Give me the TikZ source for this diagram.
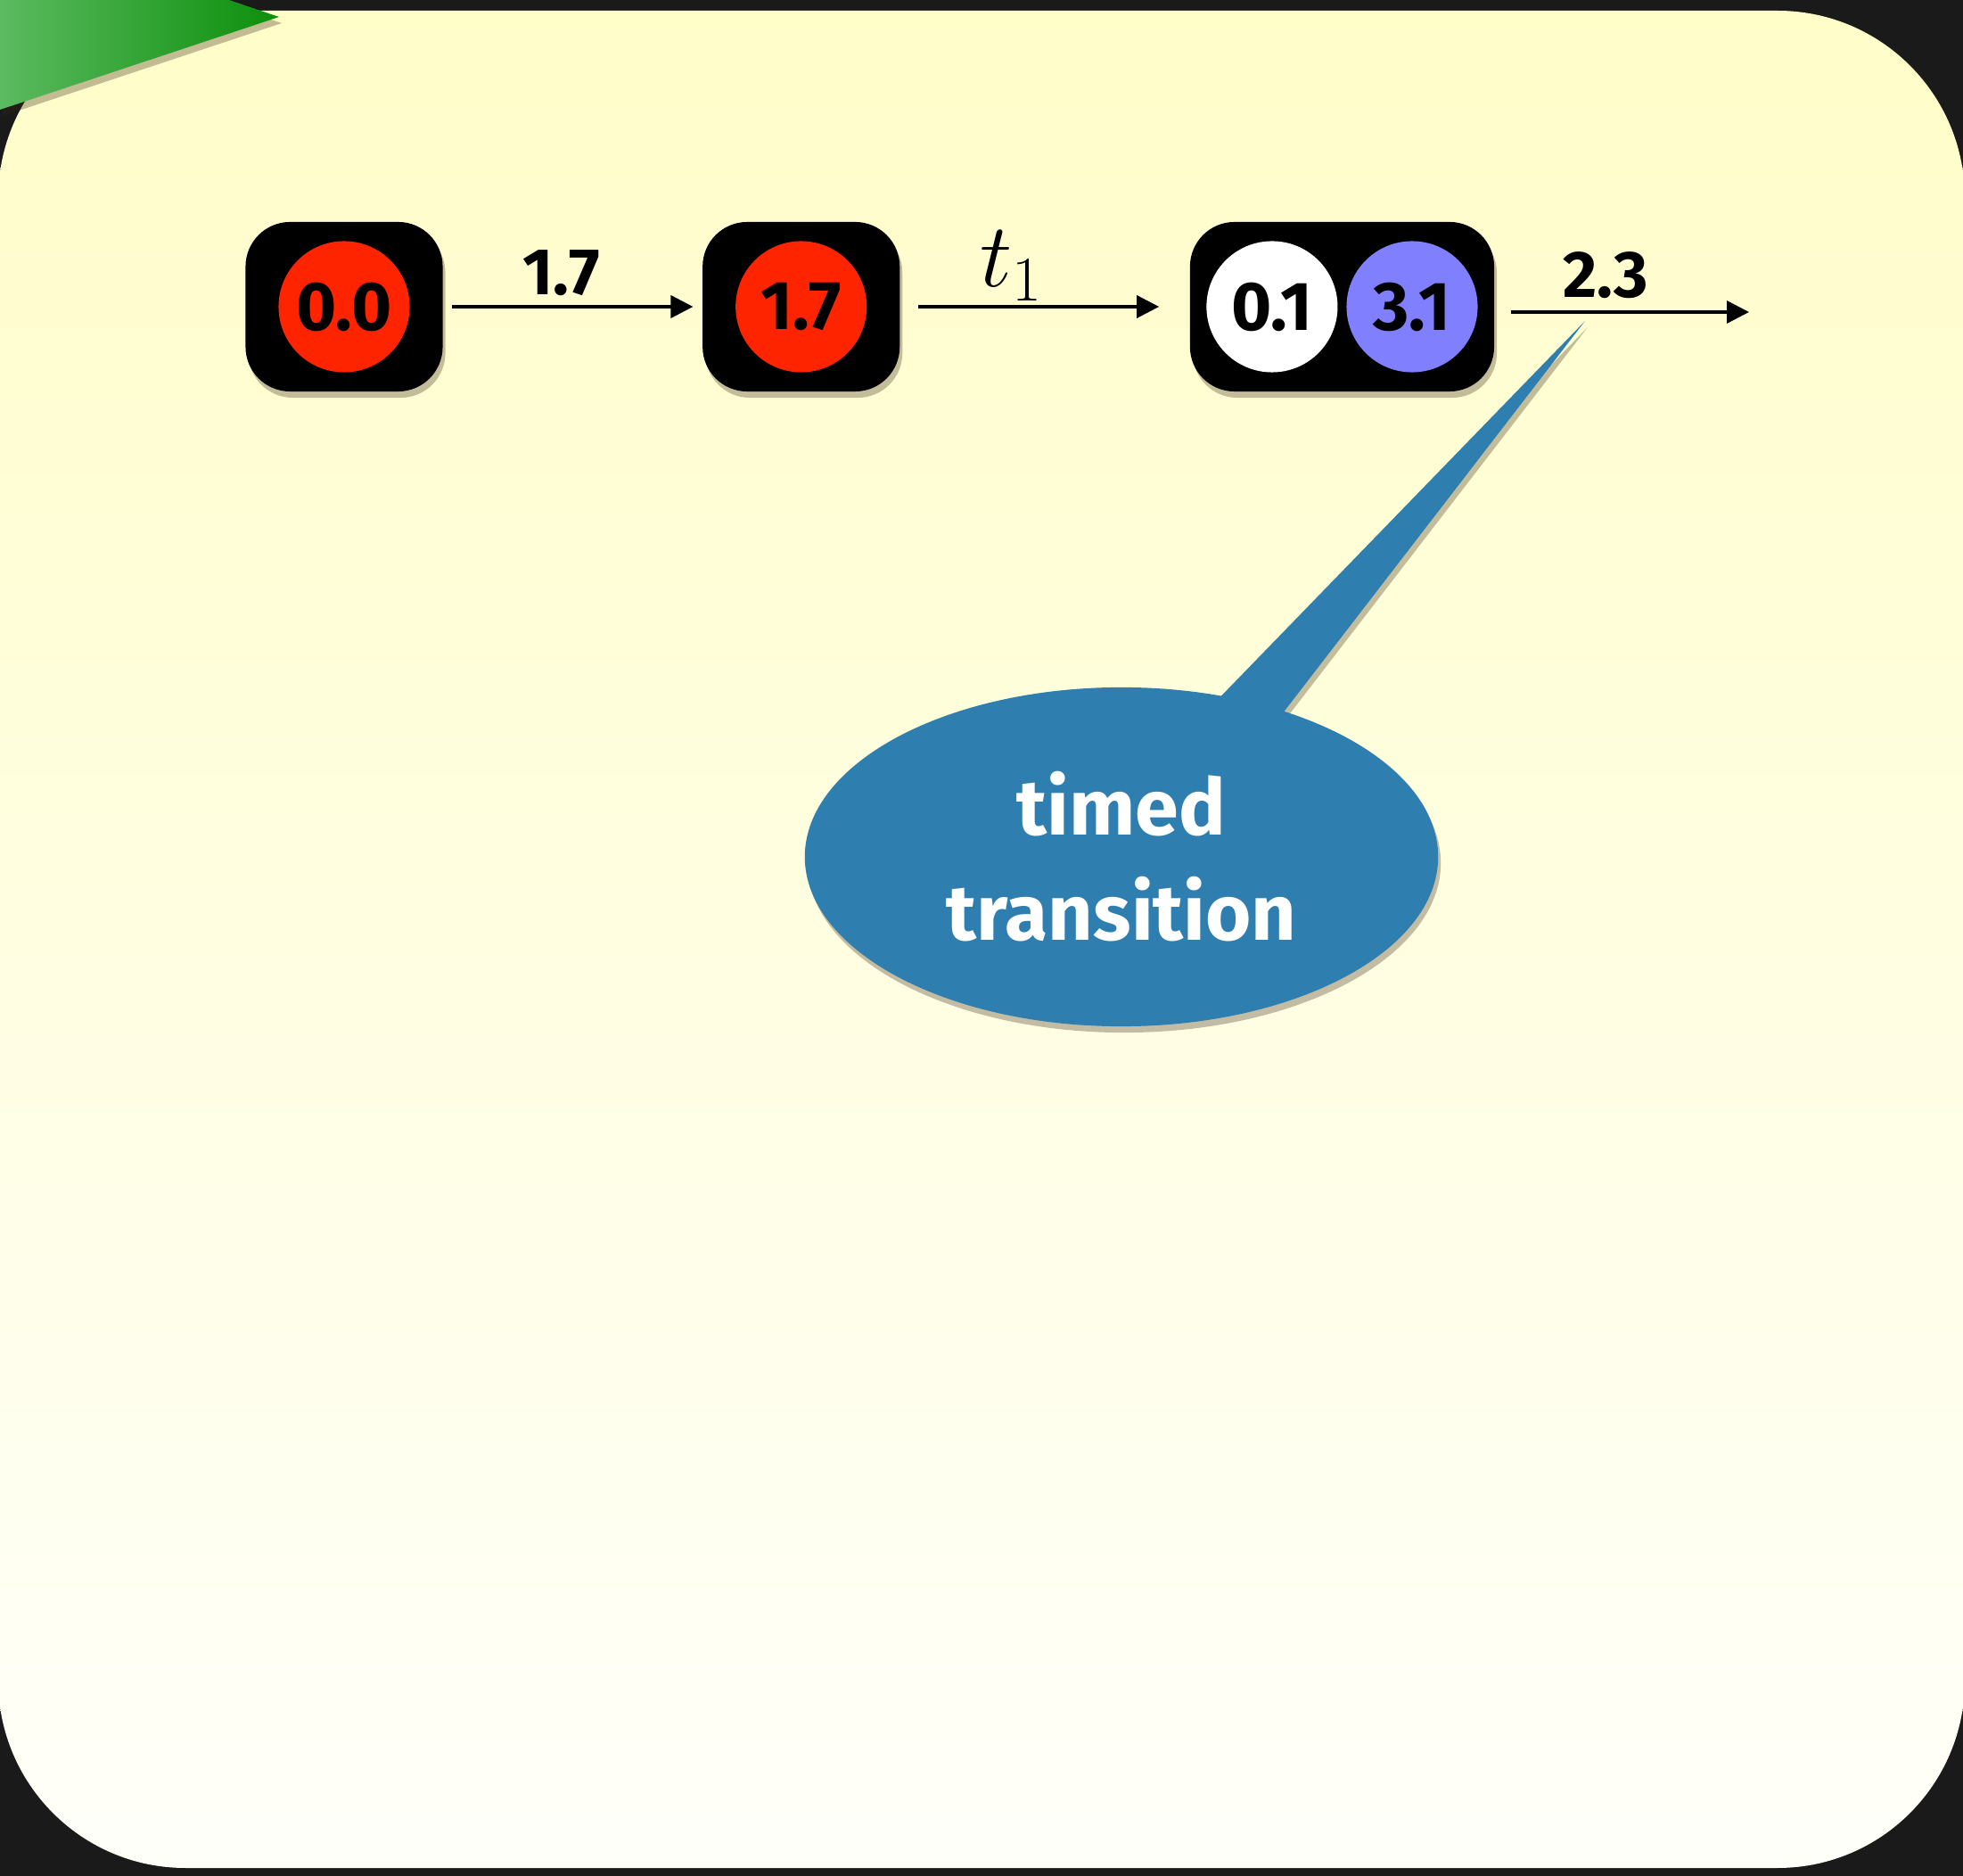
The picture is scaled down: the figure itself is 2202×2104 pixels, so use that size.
\RequirePackage{fix-cm}
\documentclass[tikz,border=0pt]{standalone}
\usepackage[no-math]{fontspec}
\setmainfont{Fira Sans}
\usepackage{tikz}
\usetikzlibrary{arrows.meta,positioning,shapes.geometric,shadows}
\definecolor{boardgray}{RGB}{26,26,26}
\definecolor{cardtop}{RGB}{255,253,200}
\definecolor{cardbot}{RGB}{255,255,250}
\definecolor{tokred}{RGB}{255,36,0}
\definecolor{tokblue}{RGB}{128,128,255}
\definecolor{callblue}{RGB}{47,126,176}
\definecolor{leafgreen}{RGB}{92,186,96}
\definecolor{darkgreen}{RGB}{12,143,12}
\tikzset{
  softshadow/.style={drop shadow={shadow xshift=0.03cm, shadow yshift=-0.07cm,
                     opacity=0.3, fill=black!70!brown}},
  statebox/.style={fill=black, rounded corners=0.5cm, minimum width=#1,
                   minimum height=1.9cm, inner sep=0pt, softshadow},
  statebox/.default=2.21cm,
  token/.style ={circle, minimum size=1.47cm, inner sep=0pt,
                 font=\fontsize{22}{26}\selectfont\bfseries},
  arr/.style   ={-{Triangle[length=0.25cm, width=0.25cm]}, line width=1pt},
  lbl/.style   ={font=\fontsize{21}{25}\selectfont\bfseries, inner sep=0.1cm},
  callout/.style={ellipse, fill=callblue, minimum width=7.1cm,
                  minimum height=3.8cm, text=white, align=center,
                  font=\fontsize{25}{33.6}\selectfont\bfseries},
}

\begin{document}
\begin{tikzpicture}[x=0.01cm, y=-0.01cm]
  \useasboundingbox (0,0) rectangle (2202,2104);
  % board and card
  \fill[boardgray] (0,0) rectangle (2202,2104);
  \shade[top color=cardtop, bottom color=cardbot, rounded corners=2.1cm]
    (-2,12) rectangle (2204,2095);
  \shade[left color=leafgreen, right color=darkgreen, softshadow]
    (0,-20) -- (198,-20) -- (313,19) -- (0,123) -- cycle;

  % markings
  \node[statebox] (s0) at (386,344) {};
  \node[token, fill=tokred] (k0) at (s0) {0.0};
  \node[statebox, right=2.9cm of s0] (s1) {};
  \node[token, fill=tokred] (k1) at (s1) {1.7};
  \node[statebox=3.41cm, right=3.24cm of s1] (s2) {};
  \node[token, fill=white, xshift=-0.785cm] (k2a) at (s2) {0.1};
  \node[token, fill=tokblue, xshift=0.785cm] (k2b) at (s2) {3.1};
  \coordinate (out) at (1962,350);

  \draw[arr, shorten <=0.1cm, shorten >=0.1cm] (s0) --
    node[lbl, above, pos=0.455] {1.7} (s1);
  \draw[arr, shorten <=0.2cm, shorten >=0.34cm] (s1) --
    node[lbl, above, pos=0.385, inner sep=0.05cm,
         font=\fontsize{29}{34}\selectfont] {$t_1$} (s2);
  \draw[arr, shorten <=0.18cm] (s2.east |- out) --
    node[lbl, above, pos=0.437, inner sep=0.13cm] {2.3} (out);

  % callout
  \coordinate (tip) at (1778,360);
  \coordinate (base1) at (1353,798);
  \coordinate (base2) at (1425,818);
  \fill[callblue, softshadow] (base1) -- (tip) -- (base2) -- cycle;
  \node[callout, softshadow] (note) at (1258,961) {timed\\transition};
\end{tikzpicture}
\end{document}
